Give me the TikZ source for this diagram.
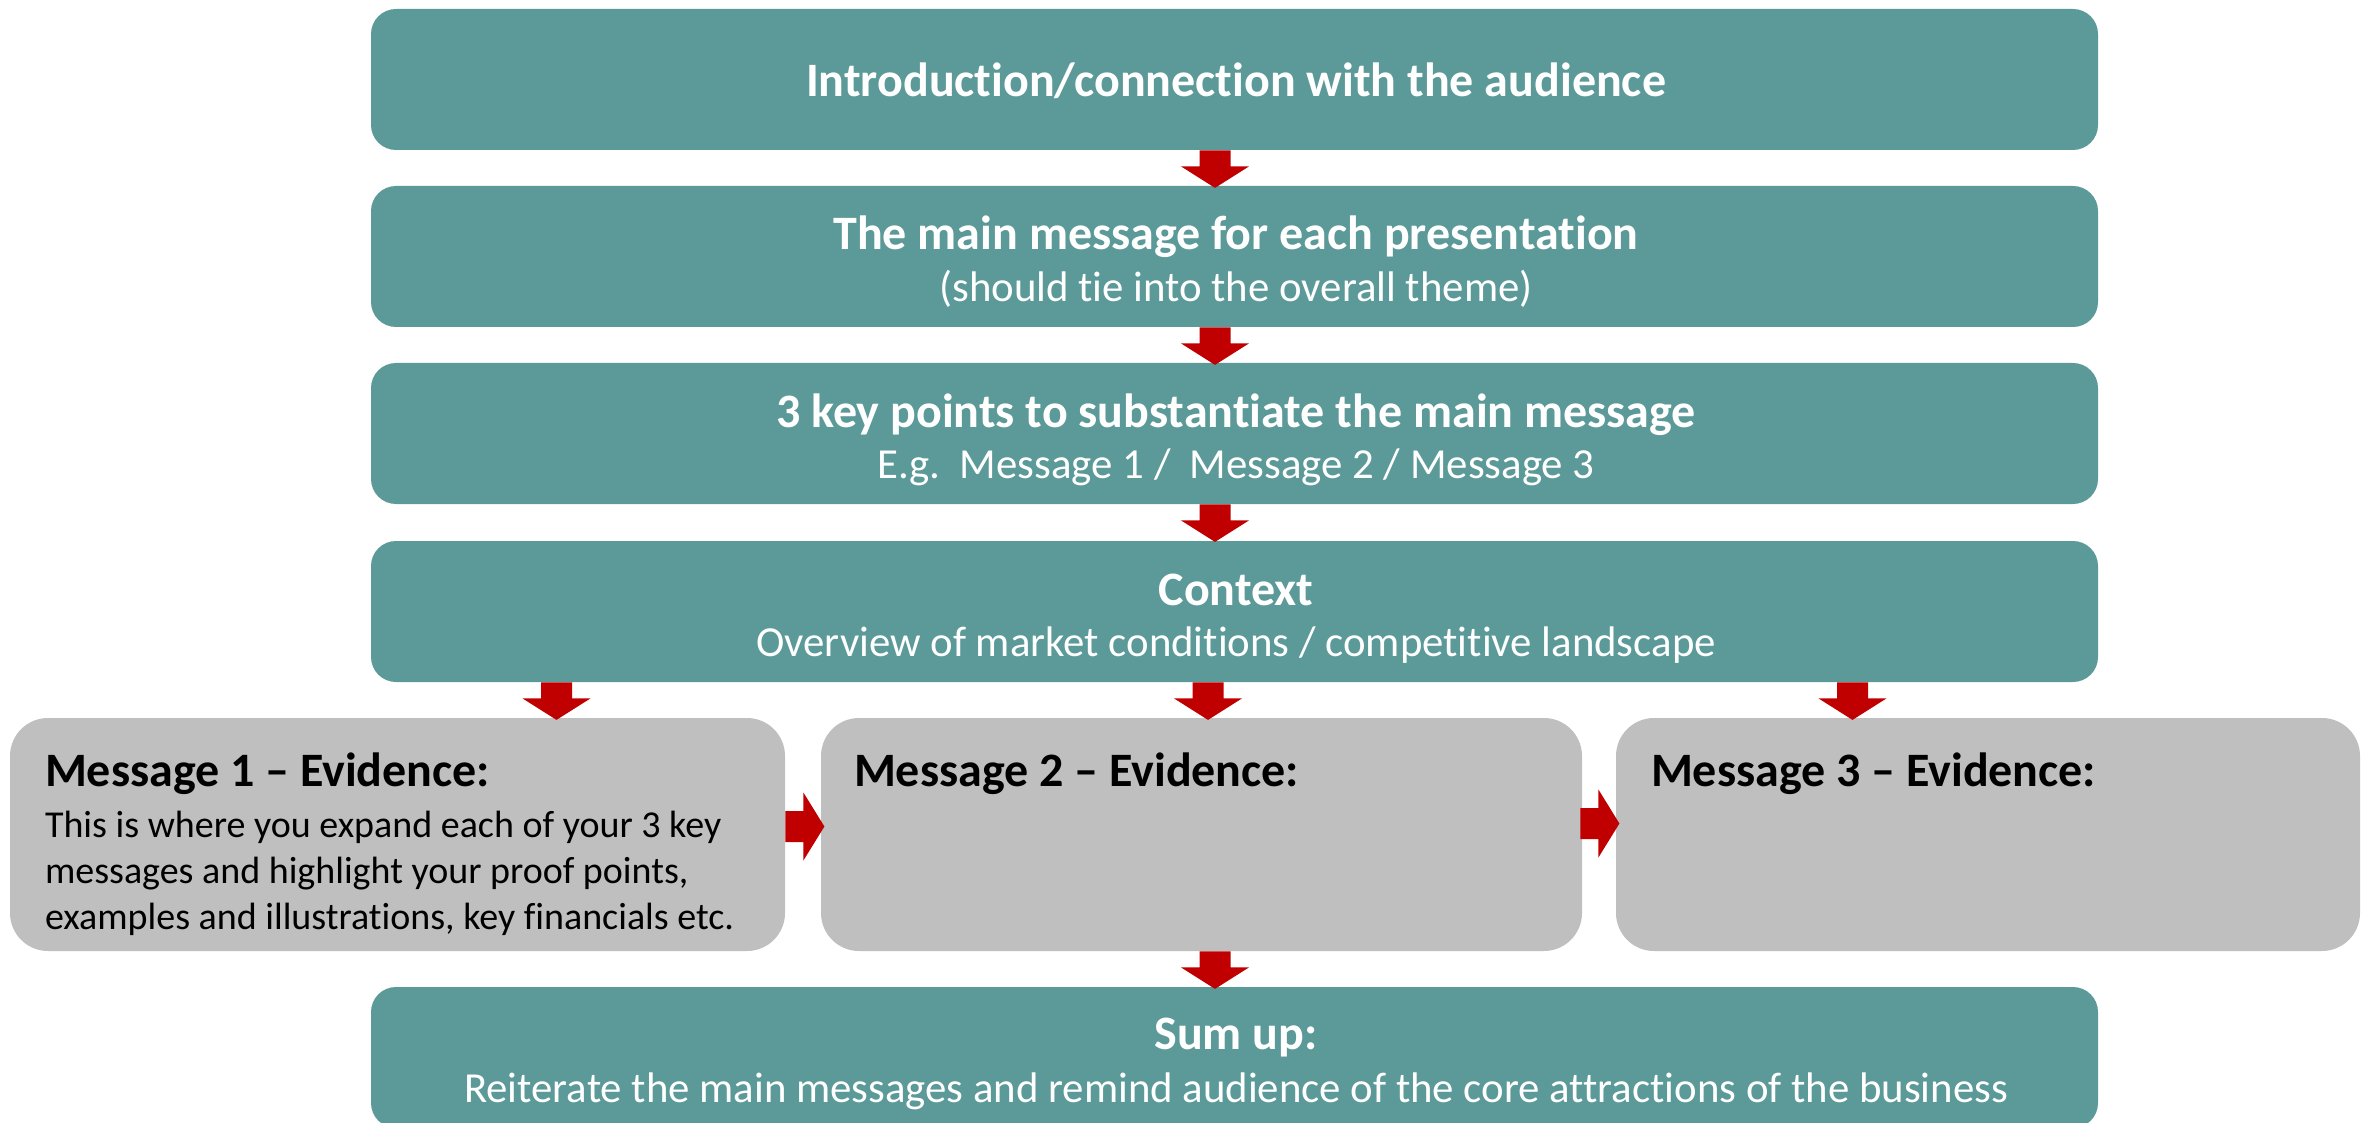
\documentclass[tikz,border=0pt]{standalone}
\usepackage{fontspec}
\setmainfont{Carlito}[RawFeature={-liga,-clig,-calt,-dlig}]
\usetikzlibrary{calc}
\definecolor{boxteal}{RGB}{91,154,152}
\definecolor{boxgrey}{RGB}{191,191,191}
\definecolor{arrowred}{RGB}{192,0,0}
% block arrow pointing down, its flat end centred on the given coordinate
\newcommand\blockdown[1]{%
  \fill[arrowred] ($(#1)+(-15.5,0)$) -- ++(31,0) -- ++(0,16) -- ++(18.5,0)
    -- ++(-34,21.5) -- ++(-34,-21.5) -- ++(18.5,0) -- cycle;}
% block arrow pointing right
\newcommand\blockright[1]{%
  \fill[arrowred] ($(#1)+(0,-15.5)$) -- ++(18,0) -- ++(0,-18.5) -- ++(21,34)
    -- ++(-21,34) -- ++(0,-18.5) -- ++(-18,0) -- cycle;}
\begin{document}
\begin{tikzpicture}[x=0.5pt,y=-0.5pt,
  tealbox/.style={fill=boxteal, rounded corners=12.5pt, inner sep=0pt,
    minimum width=863.5pt, minimum height=70.5pt},
  greybox/.style={fill=boxgrey, rounded corners=19pt, inner sep=0pt,
    minimum height=116.5pt},
  headtxt/.style={text=white, inner sep=0pt, anchor=base,
    font=\fontsize{24}{28}\selectfont\bfseries},
  subtxt/.style={text=white, inner sep=0pt, anchor=base,
    font=\fontsize{21.4}{25}\selectfont},
  evhead/.style={text=black, inner sep=0pt, anchor=base west,
    font=\fontsize{24}{28}\selectfont\bfseries},
  evbody/.style={text=black, inner sep=0pt, anchor=base west,
    font=\fontsize{19}{22}\selectfont},
]
\useasboundingbox (0,0) rectangle (2362,1123);

% main chain of teal boxes
\node[tealbox] (intro)   at (1234.5,79.5)  {};
\node[tealbox] (mainmsg) at (1234.5,256.5) {};
\node[tealbox] (keypts)  at (1234.5,433.5) {};
\node[tealbox] (context) at (1234.5,611.5) {};
\node[tealbox] (sumup)   at (1234.5,1057.5) {};

% evidence boxes
\node[greybox, minimum width=387.5pt] (ev1) at (397.5,834.5) {};
\node[greybox, minimum width=380.5pt] (ev2) at (1201.5,834.5) {};
\node[greybox, minimum width=372pt]   (ev3) at (1988,834.5) {};

% texts of the teal boxes
\node[headtxt] (introT) at ($(intro.center)+(1.5,17)$) {Introduction/connection with the audience};
\node[headtxt] (mainT)  at ($(mainmsg.center)+(1.5,-7)$) {The main message for each presentation};
\node[subtxt]  (mainS)  at ($(mainmsg.center)+(1.5,45)$) {(should tie into the overall theme)};
\node[headtxt] (keyT)   at ($(keypts.center)+(1.5,-6.5)$) {3 key points to substantiate the main message};
\node[subtxt]  (keyS)   at ($(keypts.center)+(1.5,45)$) {E.g.\ \ Message 1 /\ \ Message 2 / Message 3};
\node[headtxt] (ctxT)   at ($(context.center)+(1.5,-6.5)$) {Context};
\node[subtxt]  (ctxS)   at ($(context.center)+(1.5,45)$) {Overview of market conditions / competitive landscape};
\node[headtxt] (sumT)   at ($(sumup.center)+(1.5,-8)$) {Sum up:};
\node[subtxt]  (sumS)   at ($(sumup.center)+(1.5,45)$) {Reiterate the main messages and remind audience of the core attractions of the business};

% texts of the evidence boxes
\node[evhead] (ev1T) at ($(ev1.west)+(35,-48.5)$) {Message 1 – Evidence:};
\node[evbody] (ev1B1) at ($(ev1.west)+(35,3)$) {This is where you expand each of your 3 key};
\node[evbody] (ev1B2) at ($(ev1.west)+(35,49)$) {messages and highlight your proof points,};
\node[evbody] (ev1B3) at ($(ev1.west)+(35,95)$) {examples and illustrations, key financials etc.};
\node[evhead] (ev2T) at ($(ev2.west)+(33,-48.5)$) {Message 2 – Evidence:};
\node[evhead] (ev3T) at ($(ev3.west)+(35,-48.5)$) {Message 3 – Evidence:};

% connecting block arrows
\coordinate (a1) at ($(intro.south)+(-19.5,0)$);
\coordinate (a2) at ($(mainmsg.south)+(-19.5,0)$);
\coordinate (a3) at ($(keypts.south)+(-19.5,0)$);
\coordinate (a4) at ($(context.south)+(-678,0)$);
\coordinate (a5) at ($(context.south)+(-26.5,0)$);
\coordinate (a6) at ($(context.south)+(618,0)$);
\coordinate (a7) at ($(ev1.east)+(0,-8)$);
\coordinate (a8) at ($(ev2.east)+(-2,-11)$);
\coordinate (a9) at ($(ev2.south)+(13.5,0)$);
\blockdown{a1}
\blockdown{a2}
\blockdown{a3}
\blockdown{a4}
\blockdown{a5}
\blockdown{a6}
\blockright{a7}
\blockright{a8}
\blockdown{a9}
\end{tikzpicture}
\end{document}
